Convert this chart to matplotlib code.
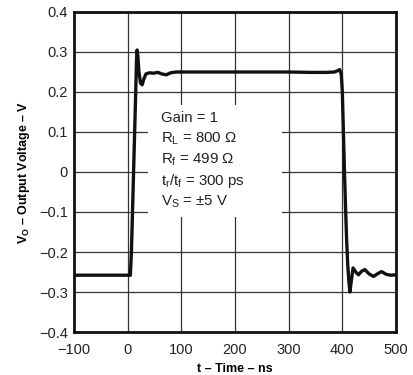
import matplotlib
matplotlib.use("Agg")
import matplotlib.pyplot as plt
from matplotlib.patches import Rectangle

plt.rcParams['font.family'] = ['Liberation Sans', 'DejaVu Sans']
plt.rcParams['mathtext.fontset'] = 'custom'
plt.rcParams['mathtext.rm'] = 'Liberation Sans'
plt.rcParams['mathtext.it'] = 'Liberation Sans'
plt.rcParams['mathtext.bf'] = 'Liberation Sans:bold'

# Waveform (time in ns, voltage in V)
time_ns = [-100, 0, 5, 7, 9, 11, 13, 15, 16.5, 17.5, 19, 21, 24, 27, 30, 34, 40, 48, 56, 64, 72, 80,
           90, 100, 150, 200, 250, 300, 340, 370, 385, 391, 395, 398, 400, 402, 404, 406, 408,
           410, 412, 414, 417, 420, 425, 430, 436, 442, 450, 458, 465, 473, 482, 490, 500]
volts = [-0.258, -0.258, -0.258, -0.2, -0.1, 0.0, 0.1, 0.2, 0.28, 0.305, 0.29, 0.25, 0.222,
         0.218, 0.232, 0.245, 0.248, 0.247, 0.249, 0.245, 0.243, 0.248,
         0.25, 0.25, 0.25, 0.25, 0.25, 0.25, 0.249, 0.249, 0.25, 0.253, 0.256, 0.245, 0.2, 0.1,
         0.0, -0.09, -0.17, -0.23, -0.27, -0.30, -0.27, -0.24, -0.25, -0.257, -0.248, -0.244,
         -0.255, -0.261, -0.255, -0.249, -0.256, -0.258, -0.257]

x_ticks = [-100, 0, 100, 200, 300, 400, 500]
y_ticks = [-0.4, -0.3, -0.2, -0.1, 0, 0.1, 0.2, 0.3, 0.4]
y_tick_labels = ['\u22120.4', '\u22120.3', '\u22120.2', '\u22120.1', '0', '0.1', '0.2', '0.3', '0.4']
x_tick_labels = ['\u2212100', '0', '100', '200', '300', '400', '500']

annotation_lines = ['Gain = 1',
                    'R$_\\mathregular{L}$ = 800 \u03A9',
                    'R$_\\mathregular{f}$ = 499 \u03A9',
                    't$_\\mathregular{r}$/t$_\\mathregular{f}$ = 300 ps',
                    'V$_\\mathregular{S}$ = \u00B15 V']

fig = plt.figure(figsize=(4.14, 3.75), dpi=100)
ax = fig.add_axes([74/414, 1 - 332/375, 322/414, 320/375])

ax.set_xlim(-100, 500)
ax.set_ylim(-0.4, 0.4)
ax.set_xticks(x_ticks)
ax.set_xticklabels(x_tick_labels)
ax.set_yticks(y_ticks)
ax.set_yticklabels(y_tick_labels)
ax.tick_params(length=0, labelsize=10.5, colors='#222222')
ax.tick_params(axis='x', pad=8)
ax.tick_params(axis='y', pad=4.5)
ax.set_axisbelow(True)
ax.grid(True, color='#333333', linewidth=0.9)
for s in ax.spines.values():
    s.set_linewidth(2.0)
    s.set_color('#111111')

ax.plot(time_ns, volts, color='#111111', linewidth=2.4, zorder=3, solid_joinstyle='round')

ax.add_patch(Rectangle((37.8, -0.1125), 287 - 37.8, 0.1675 + 0.1125,
                       facecolor='white', edgecolor='none', zorder=1.5))
ys = [0.135, 0.084, 0.031, -0.022, -0.074]
for t, yv in zip(annotation_lines, ys):
    ax.text(63, yv, t, fontsize=10.8, va='center', ha='left', color='#222222', zorder=4)

ax.set_xlabel('t \u2013 Time \u2013 ns', fontsize=9, fontweight='bold', labelpad=4)
ax.set_ylabel('V$_\\mathregular{O}$ \u2013 Output Voltage \u2013 V', fontsize=9,
              fontweight='bold', labelpad=5)

fig.savefig('out.png', dpi=100)
